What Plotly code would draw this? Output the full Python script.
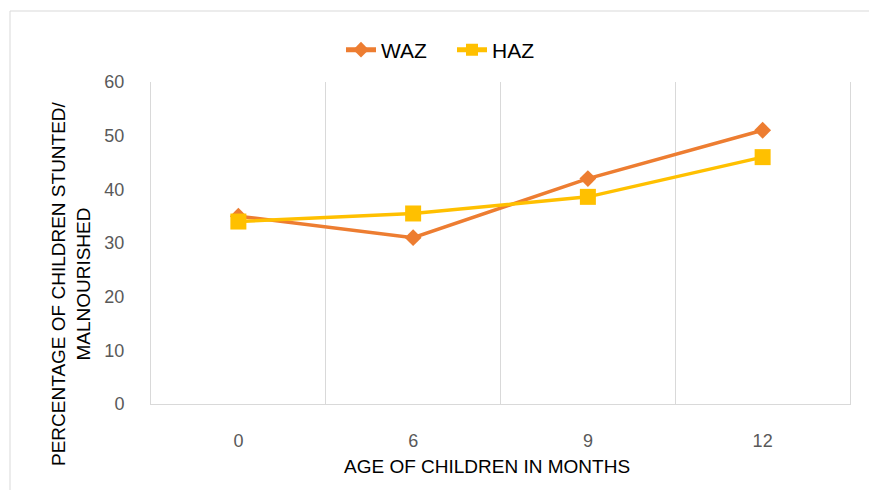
import plotly.graph_objects as go

ages = ["0", "6", "9", "12"]
waz = [35, 31, 42, 51]
haz = [34, 35.5, 38.6, 46]
y_ticks = [0, 10, 20, 30, 40, 50, 60]

FONT = "Liberation Sans, Arial, sans-serif"
W, H = 869, 490
L, R, T, B = 151, 850, 82, 404


def px(x):
    return (x - L) / (R - L)


def py(y):
    return (B - y) / (B - T)


fig = go.Figure()
fig.add_trace(go.Scatter(
    x=ages, y=waz, name="WAZ", mode="lines+markers",
    line=dict(color="#ED7D31", width=3.5),
    marker=dict(symbol="diamond", size=13, color="#ED7D31"),
))
fig.add_trace(go.Scatter(
    x=ages, y=haz, name="HAZ", mode="lines+markers",
    line=dict(color="#FFC000", width=3.5),
    marker=dict(symbol="square", size=16, color="#FFC000"),
))

fig.update_layout(
    width=W, height=H,
    margin=dict(l=L, r=W - R, t=T, b=H - B, pad=0),
    paper_bgcolor="white", plot_bgcolor="white",
    font=dict(family=FONT, size=19, color="#000000"),
    showlegend=True,
    legend=dict(orientation="h", x=px(452), xanchor="center", y=py(50), yanchor="middle",
                font=dict(size=21, color="#000000"), bgcolor="rgba(0,0,0,0)",
                itemsizing="constant", tracegroupgap=0, entrywidth=66, entrywidthmode="pixels"),
    xaxis=dict(type="category", categoryorder="array", categoryarray=ages,
               range=[-0.5, 3.5], tickson="boundaries", showgrid=True,
               gridcolor="#D9D9D9", gridwidth=1, ticks="", showline=True,
               linecolor="#D9D9D9", linewidth=1, zeroline=False,
               tickfont=dict(size=18, color="#595959"), ticklabelstandoff=20),
    yaxis=dict(range=[0, 60], tickvals=y_ticks, showgrid=False, zeroline=False,
               ticks="", showline=True, mirror=True, linecolor="#D9D9D9", linewidth=1,
               tickfont=dict(size=18, color="#595959"), ticklabelstandoff=22),
    shapes=[dict(type="rect", xref="paper", yref="paper",
                 x0=px(10), x1=px(1000), y0=py(600), y1=py(11),
                 line=dict(color="#D9D9D9", width=1), fillcolor="rgba(0,0,0,0)",
                 layer="below")],
    annotations=[
        dict(text="AGE OF CHILDREN IN MONTHS", xref="paper", yref="paper",
             x=px(487), y=py(466), xanchor="center", yanchor="middle",
             showarrow=False, font=dict(size=19, color="#000000")),
        dict(text="PERCENTAGE OF CHILDREN STUNTED/<br>MALNOURISHED", xref="paper", yref="paper",
             x=px(71), y=py(284), xanchor="center", yanchor="middle", textangle=-90,
             showarrow=False, font=dict(size=19, color="#000000")),
    ],
)

fig.write_html("out.html", config={"displayModeBar": False},
               post_script="document.body.style.margin='0px';")
